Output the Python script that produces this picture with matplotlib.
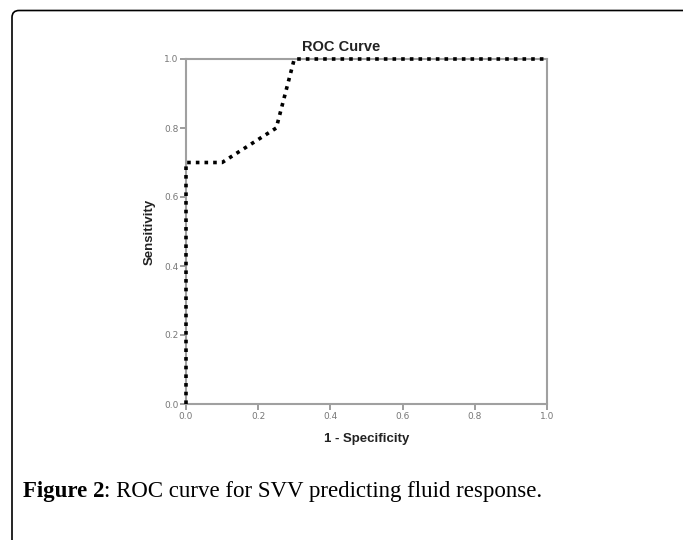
import matplotlib
matplotlib.use("Agg")
import matplotlib.pyplot as plt
import matplotlib.patches as mpatches
from matplotlib.transforms import IdentityTransform

# ROC points
fpr = [0.0, 0.0, 0.1, 0.25, 0.3, 1.0]
tpr = [0.0, 0.7, 0.7, 0.8, 1.0, 1.0]
ticks = [0.0, 0.2, 0.4, 0.6, 0.8, 1.0]
tick_labels = ["0.0", "0.2", "0.4", "0.6", "0.8", "1.0"]

gray = "#8c8c8c"

fig = plt.figure(figsize=(6.83, 5.4), dpi=100)
ax = fig.add_axes([186 / 683, 1 - 404 / 540, 361 / 683, 345 / 540])

ax.plot(fpr, tpr, color="black", lw=2.6, linestyle=(0, (1, 1.4)),
        dash_capstyle="butt", clip_on=False, zorder=5)

ax.set_xlim(0, 1)
ax.set_ylim(0, 1)
ax.set_xticks(ticks)
ax.set_yticks(ticks)
ax.set_xticklabels(tick_labels)
ax.set_yticklabels(tick_labels)
ax.tick_params(direction="out", length=4, width=1.2, color=gray,
               labelcolor="#777777", labelsize=6.5, pad=1.5)
for s in ax.spines.values():
    s.set_color("#a0a0a0")
    s.set_linewidth(1.5)

ax.set_xlabel("1 - Specificity", fontsize=9.5, fontweight="bold",
              family="Liberation Sans", color="#222222", labelpad=9)
ax.set_ylabel("Sensitivity", fontsize=9.5, fontweight="bold",
              family="Liberation Sans", color="#222222", labelpad=6)
fig.text(341 / 683, 1 - 47 / 540, "ROC Curve", ha="center", va="center",
         fontsize=10.5, fontweight="bold", family="Liberation Sans",
         color="#222222")

# caption under the chart
cap_y = 1 - 492 / 540
bold = fig.text(23 / 683, cap_y, "Figure 2", ha="left", va="center",
                fontsize=16.5, fontweight="bold", family="Liberation Serif")
cap = fig.text(0, cap_y, ": ROC curve for SVV predicting fluid response.",
               fontsize=16.5, family="Liberation Serif", va="center")

# place the rest of the caption right after the bold part
fig.canvas.draw()
bb = bold.get_window_extent()
cap.set_position((bb.x1 / 683, cap_y))

# rounded frame around the figure
frame = mpatches.FancyBboxPatch((12, -30), 720, 529.5 + 30,
                                boxstyle="round,pad=0,rounding_size=7",
                                fill=False, edgecolor="black", lw=1.2,
                                transform=IdentityTransform())
fig.patches.append(frame)

fig.savefig("out.png", dpi=100)
